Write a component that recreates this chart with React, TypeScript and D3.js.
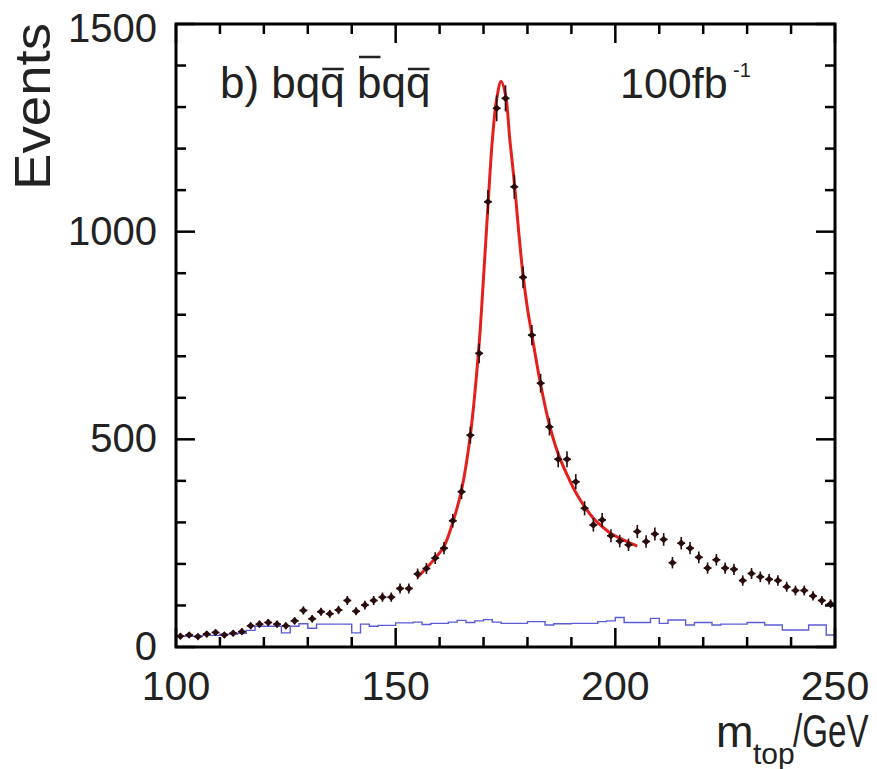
import React, { useEffect, useRef } from "react";
import * as d3 from "d3";

// ---- data ----
const xDomain = [100, 250];
const yDomain = [0, 1500];
const binWidth = 2;
const binCenters = d3.range(101, 250, 2); // 75 bins, 2 GeV wide
const dataCounts = [
  26, 29, 25, 31, 35, 29, 33, 37, 51, 55, 59, 55, 51, 63, 88, 68, 85, 80, 89, 112,
  86, 101, 112, 120, 120, 141,
  141, 176, 189, 214, 238, 304, 374, 510, 707, 1072, 1297, 1321, 1108, 890, 751, 635,
  530, 452, 452, 398, 334, 294, 306, 268,
  255, 246, 278, 254, 272, 259, 203, 250, 238, 216, 190, 210, 190, 187, 160, 177,
  169, 163, 160, 145, 136, 136, 123, 112, 104,
];
const bgCounts = [
  26, 26, 26, 28, 28, 31, 31, 33, 40, 50, 50, 50, 34, 50, 56, 45, 55, 55, 55, 55,
  34, 55, 50, 52, 52,
  58, 58, 60, 54, 57, 57, 60, 64, 59, 63, 66, 60, 57, 57, 57, 61, 61, 53, 56, 56,
  57, 57, 57, 61, 63,
  71, 59, 59, 59, 69, 57, 65, 65, 53, 59, 59, 53, 55, 55, 55, 59, 59, 53, 53, 41,
  41, 41, 53, 53, 29,
];
const fitX = [155, 157, 159, 161, 163, 165, 167, 169, 170, 171, 172, 173, 174, 175, 176, 177, 178, 179, 180, 181, 183, 185, 187, 189, 191, 193, 195, 197, 199, 201, 203, 205];
const fitY = [168, 190, 214, 242, 300, 378, 510, 730, 890, 1060, 1220, 1320, 1362, 1330, 1220, 1120, 1000, 895, 815, 752, 632, 535, 465, 415, 372, 338, 310, 290, 273, 262, 252, 243];
const xMajorTicks = [100, 150, 200, 250];
const xMinorTicks = d3.range(110, 250, 10);
const yMajorTicks = [0, 500, 1000, 1500];
const yMinorTicks = d3.range(100, 1500, 100);

const W = 877;
const H = 769;
const L = 176, R = 835, T = 24, B = 647;
const FONT = "'Liberation Sans', Arial, Helvetica, sans-serif";

export default function App() {
  const titleRef = useRef<SVGGElement>(null);
  const x = d3.scaleLinear().domain(xDomain).range([L, R]);
  const y = d3.scaleLinear().domain(yDomain).range([B, T]);

  // background histogram as a step path
  const bgPts: [number, number][] = [];
  binCenters.forEach((c, i) => {
    bgPts.push([c - binWidth / 2, bgCounts[i]]);
    bgPts.push([c + binWidth / 2, bgCounts[i]]);
  });
  const bgPath = d3.line<[number, number]>().x((d) => x(d[0])).y((d) => y(d[1]))(bgPts) || "";

  const fitPath =
    d3
      .line<number>()
      .x((_, i) => x(fitX[i]))
      .y((d) => y(d))
      .curve(d3.curveCatmullRom.alpha(0.5))(fitY) || "";

  useEffect(() => {
    const g = d3.select(titleRef.current);
    g.selectAll("*").remove();
    const t = g
      .append("text")
      .attr("x", 220)
      .attr("y", 98)
      .attr("font-size", 44)
      .attr("font-family", FONT)
      .attr("fill", "#222")
      .text("b) bqq bqq");
    const node = t.node() as SVGTextElement;
    // overline over: 2nd q (index 5), 'b' (index 7), 2nd q (index 9)
    const marks: [number, number][] = [
      [5, 69],
      [7, 57],
      [9, 69],
    ];
    marks.forEach(([idx, yy]) => {
      try {
        const s = node.getStartPositionOfChar(idx);
        const e = node.getEndPositionOfChar(idx);
        g.append("line")
          .attr("x1", s.x + 2)
          .attr("x2", e.x - 1)
          .attr("y1", yy)
          .attr("y2", yy)
          .attr("stroke", "#222")
          .attr("stroke-width", 2.5);
      } catch (err) {}
    });
  }, []);

  const tickStroke = { stroke: "#000", strokeWidth: 2.5 };

  return (
    <svg
      width={W}
      height={H}
      style={{ position: "absolute", left: 0, top: 0, background: "#fff" }}
      fontFamily={FONT}
    >
      <rect x={0} y={0} width={W} height={H} fill="#fff" />

      {/* background histogram */}
      <path d={bgPath} fill="none" stroke="#5b5bd6" strokeWidth={1.4} />

      {/* fit curve */}
      <path d={fitPath} fill="none" stroke="#e3201c" strokeWidth={3} />

      {/* data points */}
      <g fill="#2a0c0c" stroke="#2a0c0c">
        {binCenters.map((c, i) => {
          const cx = x(c);
          const cy = y(dataCounts[i]);
          const err = Math.abs(y(0) - y(Math.sqrt(dataCounts[i]))) * 0.8;
          const hw = (x(c + 1) - x(c)) * 0.9;
          const s = 3.8;
          return (
            <g key={i}>
              <line x1={cx - hw} x2={cx + hw} y1={cy} y2={cy} strokeWidth={1.6} />
              <line x1={cx} x2={cx} y1={cy - err - 1} y2={cy + err + 1} strokeWidth={1.6} />
              <path
                d={`M${cx},${cy - s}L${cx + s},${cy}L${cx},${cy + s}L${cx - s},${cy}Z`}
                stroke="none"
              />
            </g>
          );
        })}
      </g>

      {/* ticks */}
      <g {...tickStroke}>
        {xMajorTicks.map((v) => (
          <g key={"xM" + v}>
            <line x1={x(v)} x2={x(v)} y1={B} y2={B - 19} />
            <line x1={x(v)} x2={x(v)} y1={T} y2={T + 19} />
          </g>
        ))}
        {xMinorTicks
          .filter((v) => v % 50 !== 0)
          .map((v) => (
            <g key={"xm" + v}>
              <line x1={x(v)} x2={x(v)} y1={B} y2={B - 10} />
              <line x1={x(v)} x2={x(v)} y1={T} y2={T + 10} />
            </g>
          ))}
        {yMajorTicks.map((v) => (
          <g key={"yM" + v}>
            <line x1={L} x2={L + 19} y1={y(v)} y2={y(v)} />
            <line x1={R} x2={R - 19} y1={y(v)} y2={y(v)} />
          </g>
        ))}
        {yMinorTicks
          .filter((v) => v % 500 !== 0)
          .map((v) => (
            <g key={"ym" + v}>
              <line x1={L} x2={L + 10} y1={y(v)} y2={y(v)} />
              <line x1={R} x2={R - 10} y1={y(v)} y2={y(v)} />
            </g>
          ))}
      </g>

      {/* frame */}
      <rect x={L} y={T} width={R - L} height={B - T} fill="none" stroke="#000" strokeWidth={3} />

      {/* tick labels */}
      <g fontSize={40} fill="#222">
        {yMajorTicks.map((v) => (
          <text key={"yl" + v} x={157} y={Math.max(y(v) + 13, 42)} textAnchor="end">
            {String(v)}
          </text>
        ))}
        {xMajorTicks.map((v) => (
          <text key={"xl" + v} x={x(v)} y={700} textAnchor="middle" fontSize={41}>
            {String(v)}
          </text>
        ))}
      </g>

      {/* axis titles */}
      <text
        transform="translate(50,190) rotate(-90)"
        fontSize={50}
        fill="#222"
        textLength={167}
        lengthAdjust="spacingAndGlyphs"
      >
        Events
      </text>
      <g fill="#222">
        <text x={716} y={747} fontSize={45}>m</text>
        <text x={753} y={764} fontSize={30}>top</text>
        <g transform="translate(793,747) scale(0.72,1)">
          <text x={0} y={0} fontSize={46}>/GeV</text>
        </g>
      </g>

      {/* annotations */}
      <g ref={titleRef} />
      <text x={620} y={98} fontSize={43} fill="#222">100fb</text>
      <text x={733} y={77} fontSize={20} fill="#222">-1</text>
    </svg>
  );
}
